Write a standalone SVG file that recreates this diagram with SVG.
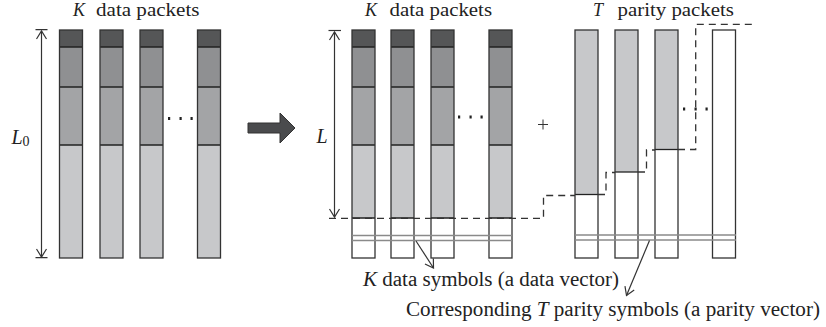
<svg xmlns="http://www.w3.org/2000/svg" width="826" height="327" viewBox="0 0 826 327">
<style>
.s{stroke:#333;stroke-width:1.3}
.d{fill:#555657}
.g1{fill:#8f9092}
.g2{fill:#a3a4a6}
.g3{fill:#c7c8ca}
.w{fill:#fff}
.sep{stroke:#222;stroke-width:1.3}
.dbl{stroke:#8a8a8a;stroke-width:1.3;fill:none}
.ln{stroke:#333;stroke-width:1.2;fill:none}
.dash{stroke:#333;stroke-width:1.3;fill:none;stroke-dasharray:7,5}
.t{font-family:"Liberation Serif","Times New Roman",serif;fill:#222}
.i{font-style:italic}
.dot{fill:#222}
</style>
<defs>
<marker id="ah" markerWidth="12" markerHeight="12" refX="10" refY="6" orient="auto-start-reverse" markerUnits="userSpaceOnUse">
<path d="M2,1 L10,6 L2,11" fill="none" stroke="#333" stroke-width="1.2"/>
</marker>
</defs>
<rect width="826" height="327" fill="#fff"/>

<g id="titles">
<text class="t i" x="73" y="16" font-size="18">K</text>
<text class="t" x="96" y="16" font-size="18" textLength="103.5" lengthAdjust="spacingAndGlyphs">data packets</text>
<text class="t i" x="365" y="16" font-size="18">K</text>
<text class="t" x="389.5" y="16" font-size="18" textLength="102.5" lengthAdjust="spacingAndGlyphs">data packets</text>
<text class="t i" x="593" y="16" font-size="18">T</text>
<text class="t" x="617.5" y="16" font-size="18" textLength="116.5" lengthAdjust="spacingAndGlyphs">parity packets</text>
</g>

<g id="left-packets">
<g id="lp1"><rect class="d" x="59.5" y="30" width="23" height="17"/><rect class="g1" x="59.5" y="47" width="23" height="40"/><rect class="g2" x="59.5" y="87" width="23" height="58"/><rect class="g3" x="59.5" y="145" width="23" height="113"/>
<path class="sep" d="M59.5,47H82.5M59.5,87H82.5M59.5,145H82.5"/><rect class="s" x="59.5" y="30" width="23" height="228" fill="none"/></g>
<g id="lp2"><rect class="d" x="100" y="30" width="23" height="17"/><rect class="g1" x="100" y="47" width="23" height="40"/><rect class="g2" x="100" y="87" width="23" height="58"/><rect class="g3" x="100" y="145" width="23" height="113"/>
<path class="sep" d="M100,47H123M100,87H123M100,145H123"/><rect class="s" x="100" y="30" width="23" height="228" fill="none"/></g>
<g id="lp3"><rect class="d" x="140" y="30" width="23" height="17"/><rect class="g1" x="140" y="47" width="23" height="40"/><rect class="g2" x="140" y="87" width="23" height="58"/><rect class="g3" x="140" y="145" width="23" height="113"/>
<path class="sep" d="M140,47H163M140,87H163M140,145H163"/><rect class="s" x="140" y="30" width="23" height="228" fill="none"/></g>
<g id="lp4"><rect class="d" x="197.5" y="30" width="23" height="17"/><rect class="g1" x="197.5" y="47" width="23" height="40"/><rect class="g2" x="197.5" y="87" width="23" height="58"/><rect class="g3" x="197.5" y="145" width="23" height="113"/>
<path class="sep" d="M197.5,47H220.5M197.5,87H220.5M197.5,145H220.5"/><rect class="s" x="197.5" y="30" width="23" height="228" fill="none"/></g>
<rect class="dot" x="168" y="117" width="2.2" height="3"/><rect class="dot" x="179.5" y="117" width="2.2" height="3"/><rect class="dot" x="190.5" y="117" width="2.2" height="3"/>
</g>

<g id="L0-dim">
<line class="ln" x1="41.5" y1="31" x2="41.5" y2="257" marker-start="url(#ah)" marker-end="url(#ah)"/>
<path class="ln" d="M35.5,29.7H47.5M35.5,257.7H47.5"/>
<text class="t i" x="11.5" y="144" font-size="20">L</text>
<text class="t" x="22.5" y="146" font-size="14">0</text>
</g>

<g id="big-arrow">
<polygon points="248,123 280,123 280,113 295,128 280,143 280,133 248,133" fill="#4a4b4d" stroke="#333" stroke-width="1"/>
</g>

<g id="data-packets">
<g id="dp1"><rect class="d" x="352" y="30" width="23" height="17"/><rect class="g1" x="352" y="47" width="23" height="40"/><rect class="g2" x="352" y="87" width="23" height="58"/><rect class="g3" x="352" y="145" width="23" height="73"/><rect class="w" x="352" y="218" width="23" height="40"/>
<path class="sep" d="M352,47H375M352,87H375M352,145H375M352,218H375"/><rect class="s" x="352" y="30" width="23" height="228" fill="none"/></g>
<g id="dp2"><rect class="d" x="391" y="30" width="23" height="17"/><rect class="g1" x="391" y="47" width="23" height="40"/><rect class="g2" x="391" y="87" width="23" height="58"/><rect class="g3" x="391" y="145" width="23" height="73"/><rect class="w" x="391" y="218" width="23" height="40"/>
<path class="sep" d="M391,47H414M391,87H414M391,145H414M391,218H414"/><rect class="s" x="391" y="30" width="23" height="228" fill="none"/></g>
<g id="dp3"><rect class="d" x="431" y="30" width="23" height="17"/><rect class="g1" x="431" y="47" width="23" height="40"/><rect class="g2" x="431" y="87" width="23" height="58"/><rect class="g3" x="431" y="145" width="23" height="73"/><rect class="w" x="431" y="218" width="23" height="40"/>
<path class="sep" d="M431,47H454M431,87H454M431,145H454M431,218H454"/><rect class="s" x="431" y="30" width="23" height="228" fill="none"/></g>
<g id="dp4"><rect class="d" x="489" y="30" width="23" height="17"/><rect class="g1" x="489" y="47" width="23" height="40"/><rect class="g2" x="489" y="87" width="23" height="58"/><rect class="g3" x="489" y="145" width="23" height="73"/><rect class="w" x="489" y="218" width="23" height="40"/>
<path class="sep" d="M489,47H512M489,87H512M489,145H512M489,218H512"/><rect class="s" x="489" y="30" width="23" height="228" fill="none"/></g>
<rect class="dot" x="458" y="115.5" width="2.2" height="3"/><rect class="dot" x="469.5" y="115.5" width="2.2" height="3"/><rect class="dot" x="480.5" y="115.5" width="2.2" height="3"/>
<path class="dbl" d="M352,235.5H512M352,240.5H512"/>
</g>

<g id="L-dim">
<line class="ln" x1="334.5" y1="32" x2="334.5" y2="217" marker-start="url(#ah)" marker-end="url(#ah)"/>
<path class="ln" d="M328.5,30.5H341"/>
<text class="t i" x="316.5" y="143" font-size="20">L</text>
</g>

<g id="plus"><path d="M538,124.5H548M543,119.5V129.5" stroke="#333" stroke-width="1" fill="none"/></g>

<g id="parity-packets">
<g id="pp1"><rect class="w" x="575" y="30" width="23" height="228"/><rect class="g3" x="575" y="30" width="23" height="164.5"/>
<path class="sep" d="M575,194.5H598"/><rect class="s" x="575" y="30" width="23" height="228" fill="none"/></g>
<g id="pp2"><rect class="w" x="615" y="30" width="23" height="228"/><rect class="g3" x="615" y="30" width="23" height="142"/>
<path class="sep" d="M615,172H638"/><rect class="s" x="615" y="30" width="23" height="228" fill="none"/></g>
<g id="pp3"><rect class="w" x="655" y="30" width="23" height="228"/><rect class="g3" x="655" y="30" width="23" height="119.5"/>
<path class="sep" d="M655,149.5H678"/><rect class="s" x="655" y="30" width="23" height="228" fill="none"/></g>
<g id="pp4"><rect class="s" x="712.5" y="30" width="23" height="228" fill="#fff"/></g>
<rect class="dot" x="683" y="107.5" width="2.2" height="3"/><rect class="dot" x="694.5" y="107.5" width="2.2" height="3"/><rect class="dot" x="705.5" y="107.5" width="2.2" height="3"/>
<path class="dbl" d="M575,235H736M575,240H736"/>
</g>

<g id="connectors">
<path class="dash" d="M329,218.3H543.5V195.5H575"/>
<path class="dash" d="M598,194.5H606V172.5H615"/>
<path class="dash" d="M638,172H646.5V150H655"/>
<path class="dash" d="M678,149.5H695.7V24.3H753"/>
<line class="ln" x1="416" y1="241" x2="433.5" y2="268" marker-end="url(#ah)"/>
<line class="ln" x1="649.5" y1="240.5" x2="626.5" y2="295.5" marker-end="url(#ah)"/>
</g>

<g id="labels">
<text class="t" x="363" y="286" font-size="20" textLength="256" lengthAdjust="spacingAndGlyphs"><tspan class="i">K</tspan> data symbols (a data vector)</text>
<text class="t" x="406" y="316" font-size="20" textLength="414" lengthAdjust="spacingAndGlyphs">Corresponding <tspan class="i">T</tspan> parity symbols (a parity vector)</text>
</g>
</svg>
